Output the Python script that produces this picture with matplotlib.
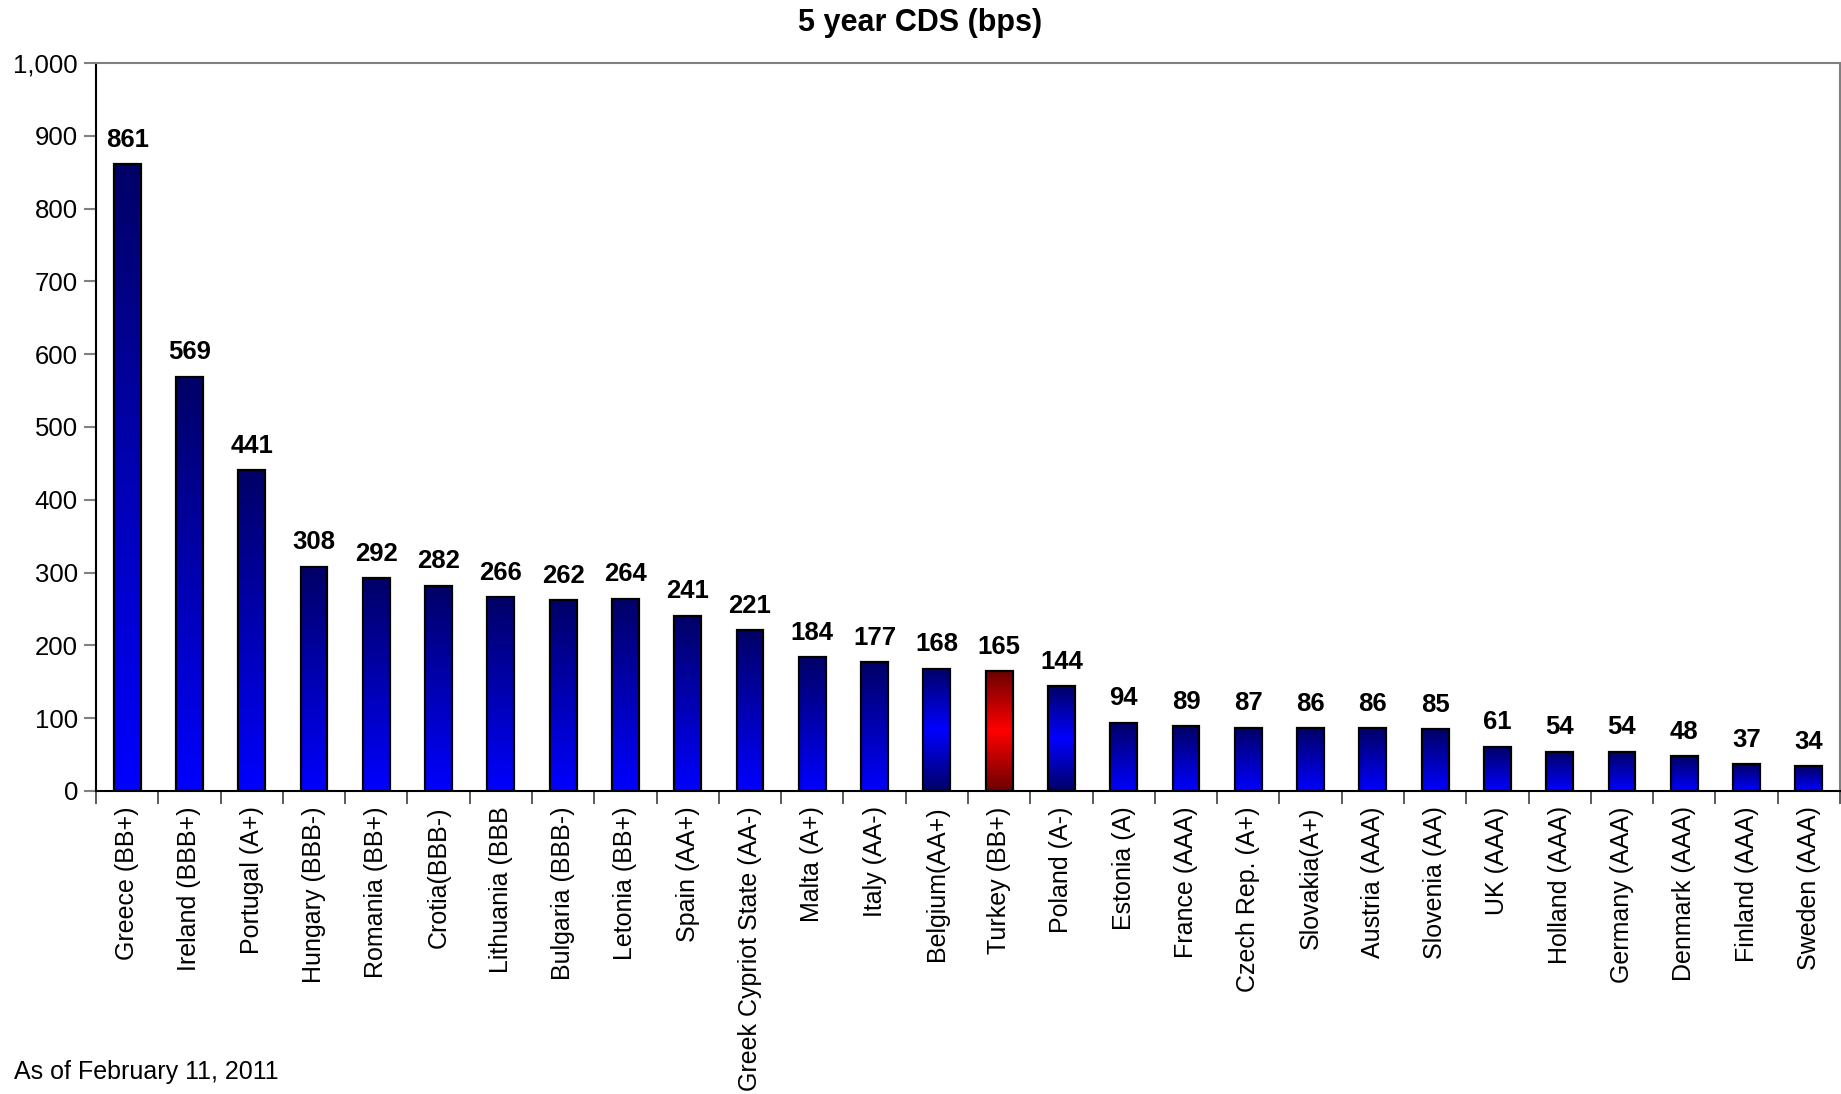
import matplotlib
matplotlib.use("Agg")
import matplotlib.pyplot as plt
import numpy as np
from matplotlib.colors import LinearSegmentedColormap
from matplotlib.ticker import FuncFormatter

plt.rcParams["font.family"] = ["Liberation Sans", "DejaVu Sans"]

countries = [
    "Greece (BB+)", "Ireland (BBB+)", "Portugal (A+)", "Hungary (BBB-)",
    "Romania (BB+)", "Crotia(BBB-)", "Lithuania (BBB", "Bulgaria (BBB-)",
    "Letonia (BB+)", "Spain (AA+)", "Greek Cypriot State (AA-)", "Malta (A+)",
    "Italy (AA-)", "Belgium(AA+)", "Turkey (BB+)", "Poland (A-)",
    "Estonia (A)", "France (AAA)", "Czech Rep. (A+)", "Slovakia(A+)",
    "Austria (AAA)", "Slovenia (AA)", "UK (AAA)", "Holland (AAA)",
    "Germany (AAA)", "Denmark (AAA)", "Finland (AAA)", "Sweden (AAA)",
]
cds = [861, 569, 441, 308, 292, 282, 266, 262, 264, 241, 221, 184, 177,
       168, 165, 144, 94, 89, 87, 86, 86, 85, 61, 54, 54, 48, 37, 34]
# which gradient each bar uses
styles = ["down"] * 13 + ["mid_blue", "mid_red", "mid_blue"] + ["down"] * 12

navy, blue = "#000066", "#0000ff"
cmaps = {
    # image row 0 = bottom of bar
    "down": LinearSegmentedColormap.from_list("down", [blue, navy]),
    "mid_blue": LinearSegmentedColormap.from_list("mb", [navy, blue, navy]),
    "mid_red": LinearSegmentedColormap.from_list("mr", ["#6a0000", "#ff0000", "#6a0000"]),
}

fig = plt.figure(figsize=(18.41, 10.94), dpi=100)
ax = fig.add_axes([96 / 1841, 1 - 791 / 1094, (1840 - 96) / 1841, (791 - 63) / 1094])

x = np.arange(len(cds))
width = 0.43
grad = np.linspace(0, 1, 256).reshape(-1, 1)
for xi, v, st in zip(x, cds, styles):
    ax.imshow(grad, cmap=cmaps[st], origin="lower", aspect="auto",
              extent=[xi - width / 2, xi + width / 2, 0, v], zorder=2)
    ax.text(xi, v + 17, str(v), ha="center", va="bottom",
            fontsize=18.5, fontweight="bold")
ax.bar(x, cds, width=width, facecolor="none", edgecolor="black",
       linewidth=1.6, zorder=3)

ax.set_xlim(-0.5, len(cds) - 0.5)
ax.set_ylim(0, 1000)
ax.set_yticks(np.arange(0, 1001, 100))
ax.yaxis.set_major_formatter(FuncFormatter(lambda v, p: f"{int(v):,}"))
ax.tick_params(axis="y", direction="out", length=9, width=1.5,
               color="#808080", labelsize=18.5, pad=4)

ax.set_xticks(x)
ax.set_xticklabels(countries, rotation=90, fontsize=18, va="top")
ax.set_xticks(np.arange(-0.5, len(cds), 1), minor=True)
ax.tick_params(axis="x", which="major", length=0, pad=11)
ax.tick_params(axis="x", which="minor", direction="out", length=9,
               width=1.2, color="#404040")

for side in ("top", "right"):
    ax.spines[side].set_color("#808080")
    ax.spines[side].set_linewidth(1.5)
for side in ("left", "bottom"):
    ax.spines[side].set_color("black")
    ax.spines[side].set_linewidth(1.5)

fig.text(0.5, 1 - 23 / 1094, "5 year CDS (bps)", ha="center", va="center",
         fontsize=22, fontweight="bold")
fig.text(14 / 1841, 1 - 1072 / 1094, "As of February 11, 2011",
         ha="left", va="center", fontsize=18)

fig.savefig("out.png", dpi=100)
